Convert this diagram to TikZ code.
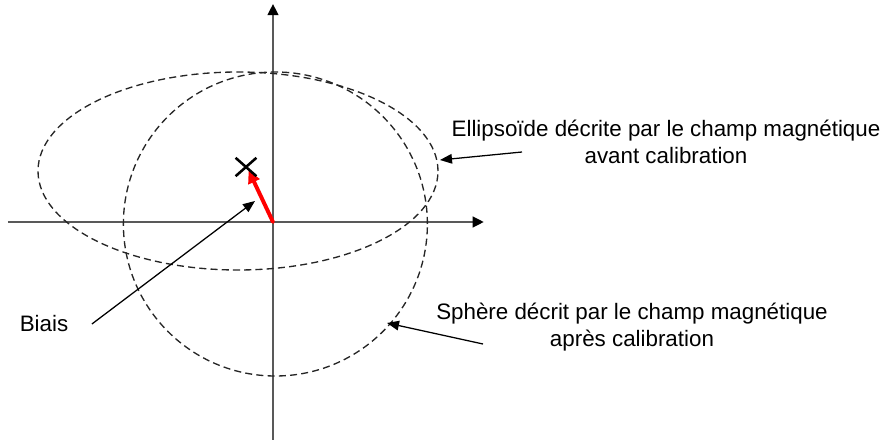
\documentclass[tikz,border=0pt]{standalone}
\usepackage{fontspec}
\setmainfont{Liberation Sans}
\usetikzlibrary{arrows.meta}
\tikzset{
  axis/.style={draw=black!65, line width=1.5pt,
               -{Triangle[length=0.28cm, width=0.27cm, black]}},
  contour/.style={draw=black!85, line width=0.95pt, dash pattern=on 5pt off 3pt},
  ptr/.style={-{Triangle[length=0.3cm, width=0.24cm]}, line width=0.9pt},
  bias/.style={draw=red, line width=2.8pt, line cap=round,
               -{Triangle[length=0.32cm, width=0.3cm, red]}},
  lbl/.style={font=\fontsize{15.9}{19}\selectfont, align=center, inner sep=1pt},
}

\begin{document}
\begin{tikzpicture}
\useasboundingbox (-6.825,-5.45) rectangle (15.25,5.55);

%% axes
\coordinate (O) at (0,0);
\coordinate (xl) at (-6.625,0);
\coordinate (xr) at (5.27,0);
\coordinate (yb) at (0,-5.45);
\coordinate (yt) at (0,5.45);
\draw[axis] (xl) -- (xr);
\draw[axis] (yb) -- (yt);

%% ellipsoid (before) and sphere (after)
\draw[contour] (-0.875,1.275) ellipse (5 and 2.475);
\draw[contour] (0.06,-0.05) circle (3.8);

%% bias vector and centre mark
\coordinate (centre) at (-0.675,1.375);
\draw[bias, shorten >=1pt] (O) -- (-0.625,1.325);
\draw[line width=1.8pt] ([shift={(-0.26,-0.23)}]centre) -- ([shift={(0.26,0.23)}]centre)
                        ([shift={(-0.26,0.23)}]centre) -- ([shift={(0.26,-0.23)}]centre);

%% labels
\node[lbl] (biais) at (-5.725,-2.55) {Biais};
\node[lbl] (ellabel) at (9.825,2.0)
  {Ellipsoïde décrite par le champ magnétique\\avant calibration};
\node[lbl] (sphlabel) at (8.975,-2.62)
  {Sphère décrit par le champ magnétique\\après calibration};

%% pointers
\coordinate (biaistip) at (-0.45,0.525);
\coordinate (ellfrom) at (6.225,1.75);
\coordinate (elltip) at (4.175,1.55);
\coordinate (sphfrom) at (5.25,-3.05);
\coordinate (sphtip) at (2.85,-2.525);
\draw[ptr] (biais.east) ++(0.55,0) -- (biaistip);
\draw[ptr] (ellfrom) -- (elltip);
\draw[ptr] (sphfrom) -- (sphtip);

\end{tikzpicture}
\end{document}
